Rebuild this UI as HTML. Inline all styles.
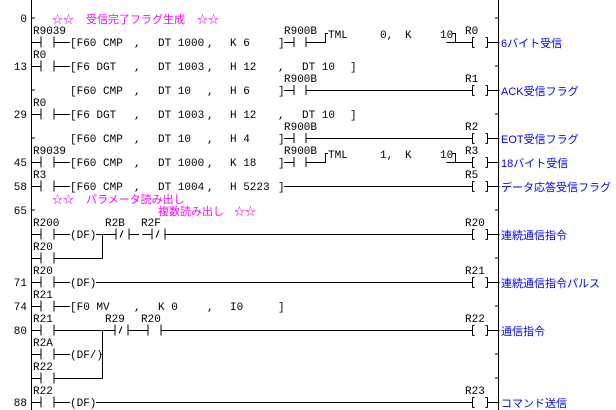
<!DOCTYPE html>
<html><head><meta charset="utf-8"><style>
html,body{margin:0;padding:0;background:#fff;}
svg{display:block}
text{font-family:"Liberation Mono","Noto Sans CJK JP",monospace;font-size:11px;fill:#000}
.c{font-family:"Liberation Sans","Noto Sans CJK JP",sans-serif;font-size:11px;fill:#ff00ff}
.b{font-family:"Liberation Sans","Noto Sans CJK JP",sans-serif;font-size:11px;fill:#0000ff}
</style></head><body>
<svg width="616" height="410" viewBox="0 0 616 410" xmlns="http://www.w3.org/2000/svg">
<defs>
<g id="no"><path d="M0 0H10M10 -6V5M23 -6V5M23 0H33" stroke="#000" fill="none"/></g>
<g id="nc"><path d="M-8 0H2M2 -6V5M15 -6V5M15 0H25M6 3L9 -4" stroke="#000" fill="none"/></g>
<g id="coil"><path d="M-26 0H0M0 -5V5M0 -5H2M0 5H2M15 -5V5M13 -5H15M13 5H15M15 0H27" stroke="#000" fill="none"/></g>
</defs>
<g stroke="#000" fill="none">
<path d="M31.5 0V410M498.5 0V410"/>
<path d="M31 18H35M31 90H35M31 138H35M31 210H35"/>
<path d="M495 18H498M495 66H498M495 114H498M495 210H498M495 258H498M495 306H498M495 354H498M495 378H498"/>
</g>
<g text-anchor="end">
<text x="27" y="22">0</text><text x="27" y="70">13</text><text x="27" y="118">29</text>
<text x="27" y="166">45</text><text x="27" y="190">58</text><text x="27" y="214">65</text>
<text x="27" y="286">71</text><text x="27" y="310">74</text><text x="27" y="334">80</text><text x="27" y="406">88</text>
</g>
<text class="c" x="52" y="23">☆☆</text><text class="c" x="86" y="23">受信完了フラグ生成</text><text class="c" x="197" y="23">☆☆</text>
<text class="c" x="52" y="203">☆☆</text><text class="c" x="86" y="203">パラメータ読み出し</text>
<text class="c" x="158" y="215">複数読み出し</text><text class="c" x="234" y="215">☆☆</text>

<!-- Row 0 -->
<text x="33" y="34">R9039</text>
<use href="#no" x="31" y="42.5"/>
<path d="M64 42.5H70" stroke="#000"/>
<text x="70" y="46">[F60 CMP</text><text x="134" y="46">,</text><text x="158" y="46">DT 1000</text><text x="207" y="46">,</text><text x="230" y="46">K 6</text><text x="278" y="46">]</text>
<text x="284" y="34">R900B</text>
<g stroke="#000" fill="none"><path d="M284 42.5H294M294 37V47M306 37V47M306 42.5H325.5V33.5H328M452 33.5H455.5V42.5H472"/></g>
<text x="328" y="38">TML</text><text x="380" y="38">0,</text><text x="405" y="38">K</text><text x="440" y="38">10</text>
<text x="465" y="34">R0</text>
<use href="#coil" x="472.5" y="42.5"/>
<text class="b" x="501" y="47">6バイト受信</text>

<!-- Row 13 -->
<text x="33" y="58">R0</text>
<use href="#no" x="31" y="66.5"/>
<path d="M64 66.5H70" stroke="#000"/>
<text x="70" y="70">[F6 DGT</text><text x="134" y="70">,</text><text x="158" y="70">DT 1003</text><text x="207" y="70">,</text><text x="230" y="70">H 12</text><text x="278" y="70">,</text><text x="302" y="70">DT 10</text><text x="350" y="70">]</text>
<text x="70" y="94">[F60 CMP</text><text x="134" y="94">,</text><text x="158" y="94">DT 10</text><text x="207" y="94">,</text><text x="230" y="94">H 6</text><text x="278" y="94">]</text>
<text x="284" y="82">R900B</text>
<g stroke="#000" fill="none"><path d="M284 90.5H294M294 85V95M306 85V95M306 90.5H472"/></g>
<text x="465" y="82">R1</text>
<use href="#coil" x="472.5" y="90.5"/>
<text class="b" x="501" y="95">ACK受信フラグ</text>

<!-- Row 29 -->
<text x="33" y="106">R0</text>
<use href="#no" x="31" y="114.5"/>
<path d="M64 114.5H70" stroke="#000"/>
<text x="70" y="118">[F6 DGT</text><text x="134" y="118">,</text><text x="158" y="118">DT 1003</text><text x="207" y="118">,</text><text x="230" y="118">H 12</text><text x="278" y="118">,</text><text x="302" y="118">DT 10</text><text x="350" y="118">]</text>
<text x="70" y="142">[F60 CMP</text><text x="134" y="142">,</text><text x="158" y="142">DT 10</text><text x="207" y="142">,</text><text x="230" y="142">H 4</text><text x="278" y="142">]</text>
<text x="284" y="130">R900B</text>
<g stroke="#000" fill="none"><path d="M284 138.5H294M294 133V143M306 133V143M306 138.5H472"/></g>
<text x="465" y="130">R2</text>
<use href="#coil" x="472.5" y="138.5"/>
<text class="b" x="501" y="143">EOT受信フラグ</text>

<!-- Row 45 -->
<text x="33" y="154">R9039</text>
<use href="#no" x="31" y="162.5"/>
<path d="M64 162.5H70" stroke="#000"/>
<text x="70" y="166">[F60 CMP</text><text x="134" y="166">,</text><text x="158" y="166">DT 1000</text><text x="207" y="166">,</text><text x="230" y="166">K 18</text><text x="278" y="166">]</text>
<text x="284" y="154">R900B</text>
<g stroke="#000" fill="none"><path d="M284 162.5H294M294 157V167M306 157V167M306 162.5H325.5V153.5H328M452 153.5H455.5V162.5H472"/></g>
<text x="328" y="158">TML</text><text x="380" y="158">1,</text><text x="405" y="158">K</text><text x="440" y="158">10</text>
<text x="465" y="154">R3</text>
<use href="#coil" x="472.5" y="162.5"/>
<text class="b" x="501" y="167">18バイト受信</text>

<!-- Row 58 -->
<text x="33" y="178">R3</text>
<use href="#no" x="31" y="186.5"/>
<path d="M64 186.5H70" stroke="#000"/>
<text x="70" y="190">[F60 CMP</text><text x="134" y="190">,</text><text x="158" y="190">DT 1004</text><text x="207" y="190">,</text><text x="230" y="190">H 5223</text><text x="278" y="190">]</text>
<path d="M284 186.5H472" stroke="#000"/>
<text x="465" y="178">R5</text>
<use href="#coil" x="472.5" y="186.5"/>
<text class="b" x="501" y="191">データ応答受信フラグ</text>

<!-- R200 -->
<text x="33" y="226">R200</text>
<use href="#no" x="31" y="234.5"/>
<path d="M64 234.5H70" stroke="#000"/>
<text x="70" y="238">(DF)</text>
<g stroke="#000" fill="none"><path d="M96 234.5H108M102.5 234.5V258.5M64 258.5H102.5"/></g>
<use href="#nc" x="114" y="234.5"/>
<text x="105" y="226">R2B</text>
<use href="#nc" x="150" y="234.5"/>
<text x="141" y="226">R2F</text>
<path d="M175 234.5H472" stroke="#000"/>
<text x="33" y="250">R20</text>
<use href="#no" x="31" y="258.5"/>
<text x="465" y="226">R20</text>
<use href="#coil" x="472.5" y="234.5"/>
<text class="b" x="501" y="239">連続通信指令</text>

<!-- Row 71 -->
<text x="33" y="274">R20</text>
<use href="#no" x="31" y="282.5"/>
<path d="M64 282.5H70M96 282.5H472" stroke="#000"/>
<text x="70" y="286">(DF)</text>
<text x="465" y="274">R21</text>
<use href="#coil" x="472.5" y="282.5"/>
<text class="b" x="501" y="287">連続通信指令パルス</text>

<!-- Row 74 -->
<text x="33" y="298">R21</text>
<use href="#no" x="31" y="306.5"/>
<path d="M64 306.5H70" stroke="#000"/>
<text x="70" y="310">[F0 MV</text><text x="134" y="310">,</text><text x="158" y="310">K 0</text><text x="207" y="310">,</text><text x="230" y="310">I0</text><text x="278" y="310">]</text>

<!-- Row 80 -->
<text x="33" y="322">R21</text>
<use href="#no" x="31" y="330.5"/>
<g stroke="#000" fill="none"><path d="M64 330.5H106M102.5 330.5V378.5M64 378.5H102.5M100 354.5H102.5"/></g>
<use href="#nc" x="113" y="330.5"/>
<text x="105" y="322">R29</text>
<use href="#no" x="138" y="330.5"/>
<text x="141" y="322">R20</text>
<path d="M171 330.5H472" stroke="#000"/>
<text x="465" y="322">R22</text>
<use href="#coil" x="472.5" y="330.5"/>
<text class="b" x="501" y="335">通信指令</text>
<text x="33" y="346">R2A</text>
<use href="#no" x="31" y="354.5"/>
<path d="M64 354.5H70" stroke="#000"/>
<text x="70" y="358">(DF/)</text>
<text x="33" y="370">R22</text>
<use href="#no" x="31" y="378.5"/>

<!-- Row 88 -->
<text x="33" y="394">R22</text>
<use href="#no" x="31" y="402.5"/>
<path d="M64 402.5H70M96 402.5H472" stroke="#000"/>
<text x="70" y="406">(DF)</text>
<text x="465" y="394">R23</text>
<use href="#coil" x="472.5" y="402.5"/>
<text class="b" x="501" y="407">コマンド送信</text>
</svg>
</body></html>
